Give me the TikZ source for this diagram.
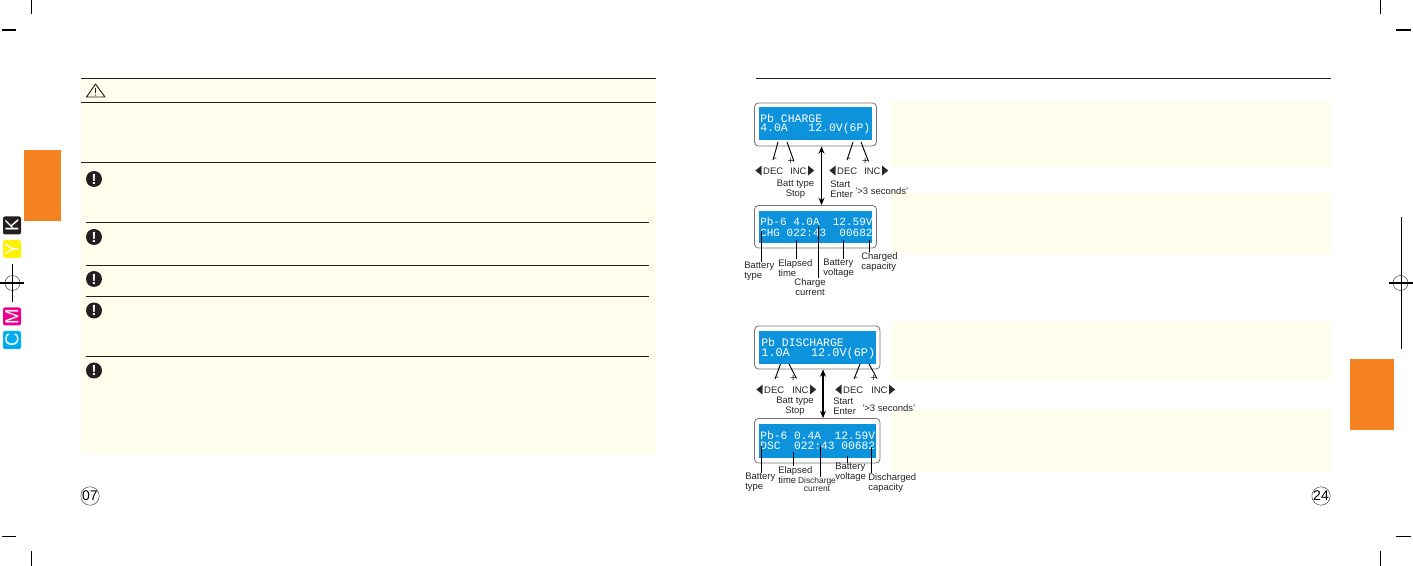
\documentclass[tikz,border=0pt]{standalone}
\usepackage{fontspec}
\setmainfont{Liberation Sans}
\newfontfamily\lcdfont{Liberation Mono}
\newfontfamily\symfont{DejaVu Sans}
\usetikzlibrary{arrows.meta,fit}
\definecolor{paper}{HTML}{FFFEEC}
\definecolor{tabcol}{HTML}{F58220}
\definecolor{lcdblue}{HTML}{0C93DC}
\definecolor{inkdark}{HTML}{231F20}
\definecolor{tabY}{HTML}{FFF200}
\definecolor{tabM}{HTML}{EC008C}
\definecolor{tabC}{HTML}{00AEEF}
\newcommand{\decbtn}{\scalebox{0.62}[1]{\symfont\fontsize{10}{10}\selectfont ◀}\,DEC}
\newcommand{\incbtn}{INC\,\scalebox{0.62}[1]{\symfont\fontsize{10}{10}\selectfont ▶}}
\tikzset{
  rule/.style={inkdark,line width=0.7pt},
  crop/.style={black,line width=0.8pt},
  alert/.style={circle,fill=inkdark,text=white,inner sep=0pt,minimum size=12pt,font=\bfseries\fontsize{11}{11}\selectfont},
  frame/.style={draw=black!55,rounded corners=3pt,line width=0.6pt,inner sep=0pt},
  screen/.style={fill=lcdblue,inner sep=0pt},
  lcd/.style={anchor=west,inner sep=0pt,text=white,font=\lcdfont\fontsize{#1}{#1}\selectfont},
  lab/.style={inner sep=0pt,text=black!85,align=left,font=\fontsize{7.1}{7.4}\selectfont},
  sign/.style={inner sep=0pt,text=black!85,font=\fontsize{8}{8}\selectfont},
  tap/.style={black,line width=0.7pt},
  updown/.style={{Stealth[length=5.5pt,width=4.5pt]}-{Stealth[length=5.5pt,width=4.5pt]},black,line width=0.8pt},
  tabbox/.style={rounded corners=1.5pt,inner sep=0pt,minimum size=13.5pt,text=white,rotate=90,font=\fontsize{14}{14}\selectfont},
  pagenum/.style={circle,draw=black!70,line width=0.4pt,inner sep=0pt,minimum size=13.5pt,font=\fontsize{10.5}{10.5}\selectfont},
}
\begin{document}
\begin{tikzpicture}[x=0.75pt,y=-0.75pt]
  \useasboundingbox (0,0) rectangle (1413,566);
  \fill[paper] (81,79) rectangle (656,454);
  \fill[paper] (891,101) rectangle (1331,166);
  \fill[paper] (891,193) rectangle (1331,254);
  \fill[paper] (891,322) rectangle (1331,380);
  \fill[paper] (891,410) rectangle (1331,472);
  \fill[tabcol] (24,150) rectangle (61,221);
  \fill[tabcol] (1350,359) rectangle (1394,430);
  \foreach \y in {78.5,102.5,162.5} \draw[rule] (81,\y) -- (656,\y);
  \foreach \y in {222,265,296,356} \draw[rule] (86,\y) -- (649,\y);
  \draw[rule] (756,78.5) -- (1331,78.5);
  \draw[inkdark,line width=0.7pt,line join=round] (86.5,97) -- (95.5,84) -- (105,97) -- cycle;
  \draw[inkdark,line width=0.8pt] (95.5,88) -- (95.5,93);
  \fill[inkdark] (95.5,95) circle (0.6);
  \foreach \y/\n in {179/a,237/b,279/c,310.5/d,370.5/e}
    \node[alert] (alert\n) at (94,\y) {!};
  \node[pagenum] (pageL) at (90,496) {07};
  \node[pagenum] (pageR) at (1321,496) {24};
  % colour tabs
  \node[tabbox,fill=inkdark] (boxK) at (12,225.5) {K};
  \node[tabbox,fill=tabY] (boxY) at (12,249) {Y};
  \node[tabbox,fill=tabM] (boxM) at (12,316.5) {M};
  \node[tabbox,fill=tabC] (boxC) at (12,340) {C};
  % targets and crop marks
  \draw[black!70,line width=0.4pt] (12.5,283) circle (7.5);
  \draw[crop] (0,283) -- (24,283);
  \draw[crop] (12.5,264) -- (12.5,302);
  \draw[black!70,line width=0.4pt] (1400.5,283) circle (7.5);
  \draw[crop] (1389,283) -- (1413,283);
  \draw[crop] (1401.5,217) -- (1401.5,349);
  \draw[crop] (31.5,0) -- (31.5,14);
  \draw[crop] (2,30) -- (16,30);
  \draw[crop] (1380.5,0) -- (1380.5,14);
  \draw[crop] (1396,30) -- (1411,30);
  \draw[crop] (2,536.5) -- (16,536.5);
  \draw[crop] (31.5,551) -- (31.5,566);
  \draw[crop] (1396,536.5) -- (1411,536.5);
  \draw[crop] (1380.5,551) -- (1380.5,566);
  % charge panel
  \node[frame,fit={(754.5,103) (876.5,146)}] (frameA) {};
  \node[screen,fit={(759,107) (872,140)}] (screenA) {};
  \node[lcd=8.6] (lineAa) at (760,118) {Pb CHARGE};
  \node[lcd=8.6] (lineAb) at (760,129) {4.0A~~~12.0V(6P)};
  \node[frame,fit={(754.5,205.5) (876.5,248)}] (frameB) {};
  \node[screen,fit={(759,211) (872,243)}] (screenB) {};
  \node[lcd=8.25] (lineBa) at (760,221.5) {Pb-6 4.0A~~12.59V};
  \node[lcd=8.25] (lineBb) at (760,232.5) {CHG 022:43~~00682};
  \node[sign,anchor=west] (minusAa) at (773,160) {-};
  \node[sign,anchor=east] (plusAa) at (794,161.5) {+};
  \node[sign,anchor=west] (minusAb) at (847,160) {-};
  \node[sign,anchor=east] (plusAb) at (868.5,161.5) {+};
  \coordinate (tickAa) at (778,142);
  \coordinate (tickAb) at (787,142);
  \coordinate (tickAc) at (853,142);
  \coordinate (tickAd) at (861,142);
  \draw[tap] (tickAa) -- (minusAa.west);
  \draw[tap] (tickAb) -- (plusAa.east);
  \draw[tap] (tickAc) -- (minusAb.west);
  \draw[tap] (tickAd) -- (plusAb.east);
  \node[lab,anchor=west] (decAa) at (755,171) {\decbtn};
  \node[lab,anchor=west] (incAa) at (790,171) {\incbtn};
  \node[lab,anchor=west] (decAb) at (829,171) {\decbtn};
  \node[lab,anchor=west] (incAb) at (864,171) {\incbtn};
  \node[lab,align=center] (battA) at (795.5,189) {Batt type\\Stop};
  \node[lab,anchor=west] (startA) at (830,189) {Start\\Enter};
  \node[lab,anchor=west] (holdA) at (855,191) {'>3 seconds'};
  \coordinate (midA) at (821.5,0);
  \draw[updown] (frameA.south -| midA) -- (frameB.north -| midA);
  \node[lab,anchor=west] (typeB) at (744,271) {Battery\\type};
  \node[lab,anchor=west] (timeB) at (778,268) {Elapsed\\time};
  \node[lab,align=center] (currB) at (810,287) {Charge\\current};
  \node[lab,anchor=west] (voltB) at (823,268) {Battery\\voltage};
  \node[lab,anchor=west] (capB) at (861,262) {Charged\\capacity};
  \coordinate (tapBa) at (761.5,231);
  \coordinate (tapBb) at (796.5,240);
  \coordinate (tapBc) at (818,226);
  \coordinate (tapBd) at (843.5,240);
  \coordinate (tapBe) at (869,240);
  \draw[tap] (tapBa) -- (tapBa |- typeB.north);
  \draw[tap] (tapBb) -- (tapBb |- timeB.north);
  \draw[tap] (tapBc) -- (tapBc |- currB.north);
  \draw[tap] (tapBd) -- (tapBd |- voltB.north);
  \draw[tap] (tapBe) -- (tapBe |- capB.north);
  % discharge panel
  \node[frame,fit={(754.5,326) (880,369)}] (frameC) {};
  \node[screen,fit={(759,331) (876,364)}] (screenC) {};
  \node[lcd=8.6] (lineCa) at (761,342) {Pb DISCHARGE};
  \node[lcd=8.9] (lineCb) at (761,353) {1.0A~~~12.0V(6P)};
  \node[frame,fit={(754.5,418.5) (880,463)}] (frameD) {};
  \node[screen,fit={(759,424) (876,458)}] (screenD) {};
  \node[lcd=8.45] (lineDa) at (760,435) {Pb-6 0.4A~~12.59V};
  \node[lcd=8.45] (lineDb) at (760,446) {DSC~~022:43 00682};
  \node[sign,anchor=west] (minusCa) at (775,379) {-};
  \node[sign,anchor=east] (plusCa) at (796.5,378.5) {+};
  \node[sign,anchor=west] (minusCb) at (854,379) {-};
  \node[sign,anchor=east] (plusCb) at (877,378.5) {+};
  \coordinate (tickCa) at (780.5,364);
  \coordinate (tickCb) at (789,364);
  \coordinate (tickCc) at (860,364);
  \coordinate (tickCd) at (869,364);
  \draw[tap] (tickCa) -- (minusCa.west);
  \draw[tap] (tickCb) -- (plusCa.east);
  \draw[tap] (tickCc) -- (minusCb.west);
  \draw[tap] (tickCd) -- (plusCb.east);
  \node[lab,anchor=west] (decCa) at (756,390) {\decbtn};
  \node[lab,anchor=west] (incCa) at (792,390) {\incbtn};
  \node[lab,anchor=west] (decCb) at (835,390) {\decbtn};
  \node[lab,anchor=west] (incCb) at (871,390) {\incbtn};
  \node[lab,align=center] (battC) at (795,406) {Batt type\\Stop};
  \node[lab,anchor=west] (startC) at (833,406.5) {Start\\Enter};
  \node[lab,anchor=west] (holdC) at (862,408) {'>3 seconds'};
  \coordinate (midC) at (823,0);
  \draw[updown] (frameC.south -| midC) -- (frameD.north -| midC);
  \node[lab,anchor=west] (typeD) at (745,482) {Battery\\type};
  \node[lab,anchor=west] (timeD) at (778,475) {Elapsed\\time};
  \node[lab,align=center,font=\fontsize{6.3}{6.6}\selectfont] (currD) at (817,484.5) {Discharge\\current};
  \node[lab,anchor=west] (voltD) at (835,472.5) {Battery\\voltage};
  \node[lab,anchor=west] (capD) at (868,483) {Discharged\\capacity};
  \coordinate (tapDa) at (761,446);
  \coordinate (tapDb) at (793,452);
  \coordinate (tapDc) at (820.5,446);
  \coordinate (tapDd) at (847.5,456);
  \coordinate (tapDe) at (871,447);
  \draw[tap] (tapDa) -- (tapDa |- typeD.north);
  \draw[tap] (tapDb) -- (tapDb |- timeD.north);
  \draw[tap] (tapDc) -- (tapDc |- currD.north);
  \draw[tap] (tapDd) -- (tapDd |- voltD.north);
  \draw[tap] (tapDe) -- (tapDe |- capD.north);
\end{tikzpicture}
\end{document}
